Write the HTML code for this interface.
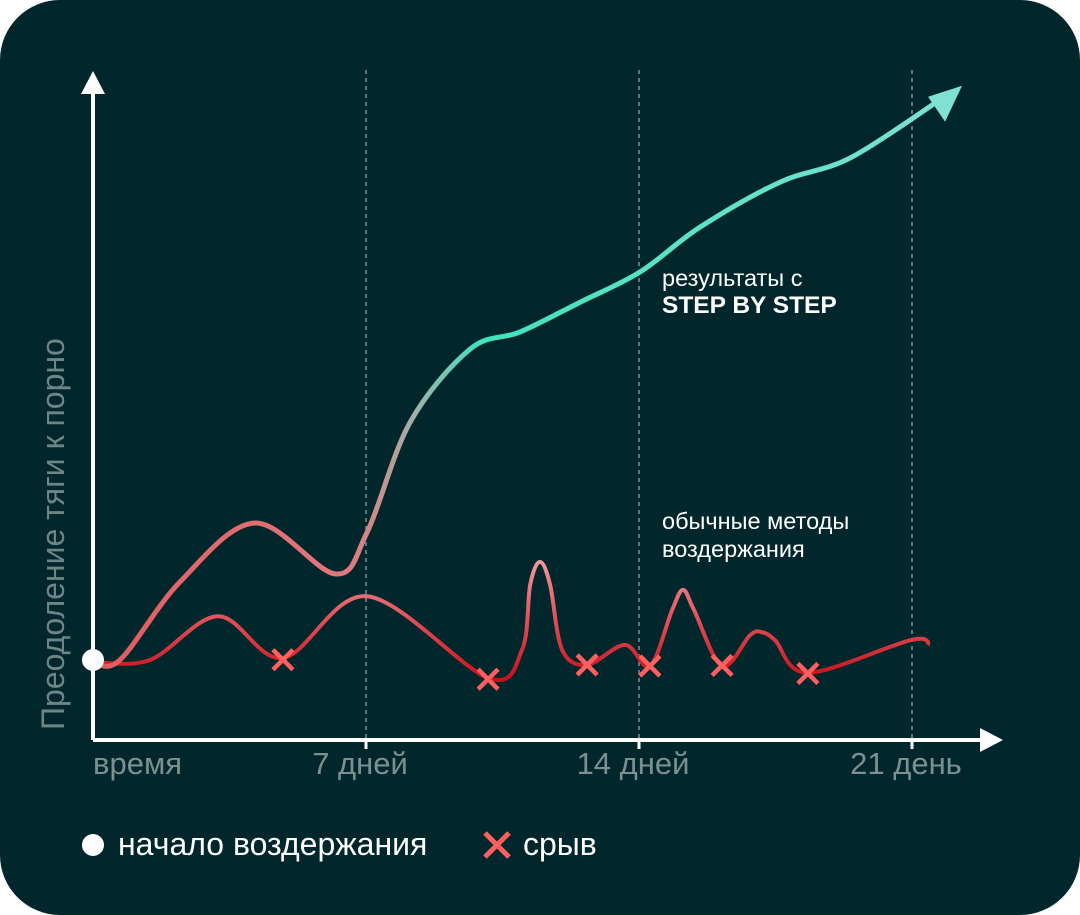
<!DOCTYPE html>
<html><head><meta charset="utf-8"><style>
html,body{margin:0;padding:0;background:#fff;}
svg{display:block;font-family:"Liberation Sans",sans-serif;}
</style></head><body>
<svg width="1080" height="915" viewBox="0 0 1080 915">
<defs>
<linearGradient id="gUp" gradientUnits="userSpaceOnUse" x1="93" y1="0" x2="960" y2="0">
<stop offset="0" stop-color="#e05a5f"/><stop offset="0.3" stop-color="#e07a7d"/><stop offset="0.37" stop-color="#a0b0a8"/><stop offset="0.45" stop-color="#40e2c0"/><stop offset="1" stop-color="#80e0d2"/>
</linearGradient>
<linearGradient id="gLow" gradientUnits="userSpaceOnUse" x1="0" y1="560" x2="0" y2="680">
<stop offset="0" stop-color="#f09a9c"/><stop offset="0.5" stop-color="#e05058"/><stop offset="1" stop-color="#c8101a"/>
</linearGradient>
</defs>
<rect x="0" y="0" width="1080" height="915" rx="60" fill="#01262b"/>
<g id="grid"></g>
<g id="series"></g>
<line x1="93" y1="740" x2="985" y2="740" stroke="#fff" stroke-width="4"/>
<polygon points="1003,740 980,728 980,752" fill="#fff"/>
<line x1="93" y1="740" x2="93" y2="92" stroke="#fff" stroke-width="4"/>
<polygon points="93,71 81,94 105,94" fill="#fff"/>
<text transform="translate(64,730) rotate(-90)" font-size="32" fill="#6e8585">Преодоление тяги к порно</text>
<g id="ticks" font-size="31" fill="#7d9090"></g>
<circle cx="93" cy="660" r="11" fill="#fff"/>
<text x="662" y="286" font-size="23.5" fill="#fff">результаты с<tspan x="662" dy="27" font-weight="bold" font-size="24.5">STEP BY STEP</tspan></text>
<text x="662" y="529" font-size="23.5" fill="#fff">обычные методы<tspan x="662" dy="28">воздержания</tspan></text>
<circle cx="93" cy="845" r="11" fill="#fff"/>
<text x="118" y="855" font-size="32" fill="#fff">начало воздержания</text>
<g stroke="#ff5f5f" stroke-width="5"><line x1="485" y1="833" x2="509" y2="857"/><line x1="509" y1="833" x2="485" y2="857"/></g>
<text x="523" y="855" font-size="32" fill="#fff">срыв</text>
</svg>
<script>
const upDays=[0,0.69,2.23,4.15,6.21,7.03,8.13,9.67,10.95,12.49,14.03,15.56,17.62,19.41,21.72];
const upVals=[0,0.35,14.0,24.3,15.4,22.7,41.9,54.7,57.7,62.9,68.2,76.0,83.9,88.1,98.3];
const lowDays=[0,1.46,3.21,4.87,7.03,10.13,11.0,11.21,11.46,11.72,12.03,12.67,13.64,14.28,14.85,15.13,15.41,16.13,16.85,17.15,17.49,18.33,20.95,21.46];
const lowVals=[0,0.35,8.0,0.7,11.5,-2.8,2.1,13.5,17.5,13.5,2.1,-0.5,3.0,-0.7,9.1,12.6,9.1,-0.7,4.7,5.2,3.8,-1.9,3.8,3.1];
const relapseDays=[4.87,10.13,12.67,14.28,16.13,18.33];
const relapseVals=[0.4,-3.0,-0.5,-0.7,-0.6,-2.0];
const tickDays=[0,7,14,21];
const tickLabels=["время","7 дней","14 дней","21 день"];
const NS="http://www.w3.org/2000/svg";
const X=d=>93+d*39, Y=v=>662-v*5.72;
function path(ds,vs){const p=ds.map((d,i)=>[X(d),Y(vs[i])]);let s=`M${p[0][0]},${p[0][1]}`;
for(let i=0;i<p.length-1;i++){const a=p[Math.max(0,i-1)],b=p[i],c=p[i+1],e=p[Math.min(p.length-1,i+2)];
s+=` C${b[0]+(c[0]-a[0])/6},${b[1]+(c[1]-a[1])/6} ${c[0]-(e[0]-b[0])/6},${c[1]-(e[1]-b[1])/6} ${c[0]},${c[1]}`;}return s;}
const grid=document.getElementById('grid'),ser=document.getElementById('series'),tk=document.getElementById('ticks');
tickDays.forEach((d,i)=>{
if(d>0){const l=document.createElementNS(NS,'line');l.setAttribute('x1',X(d));l.setAttribute('x2',X(d));l.setAttribute('y1',70);l.setAttribute('y2',740);
l.setAttribute('stroke','#8fa3a3');l.setAttribute('stroke-width','1.3');l.setAttribute('stroke-dasharray','4 4');


grid.appendChild(l);
const m=document.createElementNS(NS,'line');m.setAttribute('x1',X(d));m.setAttribute('x2',X(d));m.setAttribute('y1',740);m.setAttribute('y2',749);m.setAttribute('stroke','#fff');m.setAttribute('stroke-width','3');


grid.appendChild(m);}
const t=document.createElementNS(NS,'text');t.setAttribute('x',d===0?X(d):X(d)-6);t.setAttribute('y',774);t.setAttribute('text-anchor',d===0?'start':'middle');t.textContent=tickLabels[i];


tk.appendChild(t);});
const lo=document.createElementNS(NS,'path');lo.setAttribute('d',path(lowDays,lowVals));lo.setAttribute('fill','none');lo.setAttribute('stroke','url(#gLow)');lo.setAttribute('stroke-width','4');


ser.appendChild(lo);
const up=document.createElementNS(NS,'path');up.setAttribute('d',path(upDays,upVals));up.setAttribute('fill','none');up.setAttribute('stroke','url(#gUp)');up.setAttribute('stroke-width','5');


ser.appendChild(up);
const n=upDays.length-1,ex=X(upDays[n]),ey=Y(upVals[n]);
const ah=document.createElementNS(NS,'polygon');ah.setAttribute('points',`${ex+22},${ey-14} ${ex-12},${ey-3} ${ex+5},${ey+22}`);ah.setAttribute('fill','#80e0d2');


ser.appendChild(ah);
relapseDays.forEach((d,i)=>{const g=document.createElementNS(NS,'g');g.setAttribute('stroke','#ff5f5f');g.setAttribute('stroke-width','4.5');


const x=X(d),y=Y(relapseVals[i]);g.innerHTML=`<line x1="${x-10}" y1="${y-10}" x2="${x+10}" y2="${y+10}"/><line x1="${x+10}" y1="${y-10}" x2="${x-10}" y2="${y+10}"/>`;ser.appendChild(g);});
</script>
</body></html>
